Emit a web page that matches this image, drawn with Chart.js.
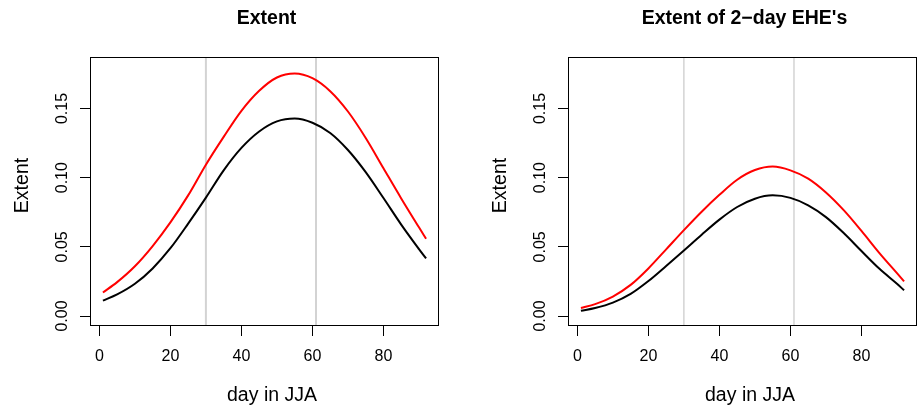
<!DOCTYPE html>
<html>
<head>
<meta charset="utf-8">
<script src="https://cdn.jsdelivr.net/npm/chart.js@4/dist/chart.umd.min.js"></script>
<style>
    html, body { margin: 0; padding: 0; background: #fff; }
    #wrap { position: relative; width: 919px; height: 410px; }
    .painel { position: absolute; top: 0; width: 460px; height: 410px; }
</style>
</head>
<body>
<div id="wrap">
    <div class="painel" style="left:0"><canvas id="chartExtent" width="460" height="410"></canvas></div>
    <div class="painel" style="left:459px"><canvas id="chartEhe" width="460" height="410"></canvas></div>
</div>
<script>
const days = [1, 5, 10, 15, 20, 25, 30, 35, 40, 45, 50, 55, 60, 65, 70, 75, 80, 85, 90, 92];

const extentBlack = [0.0111, 0.0156, 0.0233, 0.0344, 0.0490, 0.0668, 0.0856, 0.1053, 0.1215, 0.1334,
    0.1407, 0.1428, 0.1397, 0.1323, 0.1200, 0.1040, 0.0853, 0.0661, 0.0484, 0.0416];
const extentRed = [0.0170, 0.0245, 0.0360, 0.0506, 0.0677, 0.0872, 0.1094, 0.1295, 0.1483, 0.1628,
    0.1724, 0.1753, 0.1719, 0.1625, 0.1478, 0.1287, 0.1068, 0.0850, 0.0641, 0.0559];

const eheBlack = [0.0038, 0.0058, 0.0097, 0.0160, 0.0253, 0.0362, 0.0474, 0.0588, 0.0697, 0.0788,
    0.0848, 0.0872, 0.0854, 0.0800, 0.0715, 0.0600, 0.0470, 0.0343, 0.0233, 0.0186];
const eheRed = [0.0058, 0.0086, 0.0141, 0.0225, 0.0344, 0.0482, 0.0621, 0.0754, 0.0876, 0.0985,
    0.1055, 0.1080, 0.1053, 0.0993, 0.0893, 0.0765, 0.0615, 0.0457, 0.0310, 0.0251];

const monthEnds = [30, 61];
const xTicks = [0, 20, 40, 60, 80];
const yTicks = [0, 0.05, 0.10, 0.15];
const yLimits = [0, 0.18];

const fonte = '"Liberation Sans", Arial, Helvetica, sans-serif';

// R-style extension of 4% on each side
const xMin = days[0] - 0.04 * (days[days.length - 1] - days[0]);
const xMax = days[days.length - 1] + 0.04 * (days[days.length - 1] - days[0]);
const yMin = yLimits[0] - 0.04 * (yLimits[1] - yLimits[0]);
const yMax = yLimits[1] + 0.04 * (yLimits[1] - yLimits[0]);

const moldura = {
    id: 'moldura',
    afterDraw(chart, args, opts) {
        const { ctx, chartArea: a, scales: { y } } = chart;
        const cx = (a.left + a.right) / 2;
        const cy = (a.top + a.bottom) / 2;
        ctx.save();
        ctx.strokeStyle = '#000';
        ctx.lineWidth = 1;
        ctx.strokeRect(a.left + 0.5, a.top + 0.5, a.right - a.left - 1, a.bottom - a.top - 1);

        ctx.fillStyle = '#000';
        ctx.textAlign = 'center';
        ctx.textBaseline = 'alphabetic';

        ctx.font = 'bold 19.5px ' + fonte;
        ctx.fillText(opts.titulo, cx + 2, 24);

        ctx.font = '19.5px ' + fonte;
        ctx.fillText('day in JJA', cx + 7.5, 401);

        ctx.font = '16px ' + fonte;
        yTicks.forEach(v => {
            ctx.save();
            ctx.translate(a.left - 23.5, y.getPixelForValue(v));
            ctx.rotate(-Math.PI / 2);
            ctx.fillText(v.toFixed(2), 0, 0);
            ctx.restore();
        });

        ctx.font = '19.5px ' + fonte;
        ctx.translate(a.left - 62, cy - 6);
        ctx.rotate(-Math.PI / 2);
        ctx.fillText('Extent', 0, 0);
        ctx.restore();
    }
};

function criarPainel(id, titulo, preto, vermelho, corLinha, larguraLinha, larguraEixo, margemDireita) {
    const datasets = [
        {
            data: days.map((d, i) => ({ x: d, y: vermelho[i] })),
            borderColor: '#ff0000', borderWidth: 2, order: 0,
            cubicInterpolationMode: 'monotone'
        },
        {
            data: days.map((d, i) => ({ x: d, y: preto[i] })),
            borderColor: '#000000', borderWidth: 2, order: 0,
            cubicInterpolationMode: 'monotone'
        }
    ];
    monthEnds.forEach(m => {
        datasets.push({
            data: [{ x: m, y: yMin - 1 }, { x: m, y: yMax + 1 }],
            borderColor: corLinha, borderWidth: larguraLinha, order: 1, tension: 0
        });
    });

    return new Chart(document.getElementById(id), {
        type: 'line',
        data: { datasets },
        options: {
            responsive: false,
            animation: false,
            elements: { point: { radius: 0 } },
            layout: { padding: { top: 57, right: margemDireita, left: 0, bottom: 0 } },
            plugins: {
                legend: { display: false },
                tooltip: { enabled: false },
                moldura: { titulo }
            },
            scales: {
                x: {
                    type: 'linear', min: xMin, max: xMax,
                    afterBuildTicks: ax => { ax.ticks = xTicks.map(v => ({ value: v })); },
                    afterFit: ax => { ax.height = 84; },
                    grid: { drawOnChartArea: false, drawTicks: true, tickLength: 10, color: '#000', lineWidth: 1 },
                    border: { display: false },
                    ticks: { color: '#000', padding: 11, maxRotation: 0, font: { family: fonte, size: 16 } }
                },
                y: {
                    type: 'linear', min: yMin, max: yMax,
                    afterBuildTicks: ax => { ax.ticks = yTicks.map(v => ({ value: v })); },
                    afterFit: ax => { ax.width = larguraEixo; },
                    grid: { drawOnChartArea: false, drawTicks: true, tickLength: 10, color: '#000', lineWidth: 1 },
                    border: { display: false },
                    ticks: { display: false }
                }
            }
        },
        plugins: [moldura]
    });
}

criarPainel('chartExtent', 'Extent', extentBlack, extentRed, '#d3d3d3', 2, 90, 21);
criarPainel('chartEhe', 'Extent of 2\u2212day EHE\'s', eheBlack, eheRed, '#bebebe', 1, 109, 2);
</script>
</body>
</html>
